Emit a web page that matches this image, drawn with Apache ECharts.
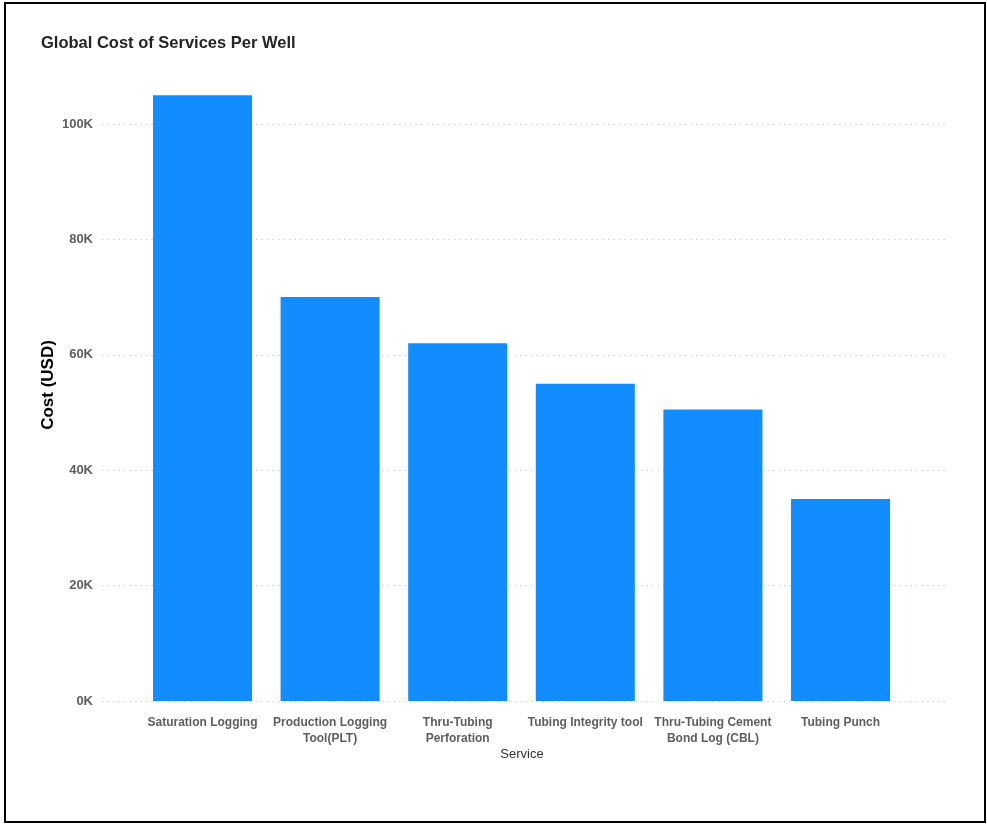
<!DOCTYPE html>
<html><head><meta charset="utf-8">
<script src="https://cdn.jsdelivr.net/npm/echarts@6/dist/echarts.min.js"></script>
<style>html,body{margin:0;padding:0;background:#fff}#c{width:987px;height:825px}</style>
</head><body><div id="c"></div>
<script>
const categories = ["Saturation Logging","Production Logging Tool(PLT)","Thru-Tubing Perforation","Tubing Integrity tool","Thru-Tubing Cement Bond Log (CBL)","Tubing Punch"];
const categoryLabels = ["Saturation Logging","Production Logging\nTool(PLT)","Thru-Tubing\nPerforation","Tubing Integrity tool","Thru-Tubing Cement\nBond Log (CBL)","Tubing Punch"];
const costValues = [105000, 70000, 62000, 55000, 50500, 35000];
const yTicks = [0, 20000, 40000, 60000, 80000, 100000];

const chart = echarts.init(document.getElementById('c'), null, {renderer:'canvas'});
const yMin = 0, yMax = 120000, yInt = 20000;
const font = '"Liberation Sans", Arial, sans-serif';
chart.setOption({
  animation:false,
  backgroundColor:'#fff',
  title:{text:'Global Cost of Services Per Well', left:36, top:30,
    textStyle:{fontFamily:font, fontSize:16.5, fontWeight:'bold', color:'#252423'}},
  graphic:[
    {type:'rect', shape:{x:5,y:3,width:980,height:819}, style:{fill:'none', stroke:'#000', lineWidth:2}, silent:true},
    {type:'text', x:48, y:385, rotation:Math.PI/2, style:{text:'Cost (USD)', fontFamily:font, fontSize:17, fontWeight:'bold', fill:'#000', align:'center', verticalAlign:'middle'}},
    {type:'text', x:522, y:754, style:{text:'Service', fontFamily:font, fontSize:13, fill:'#333', align:'center', verticalAlign:'middle'}}
  ],
  grid:[
    {left:102, right:42, top:8.6, bottom:124},
    {left:138.7, right:82.7, top:8.6, bottom:124}
  ],
  xAxis:[
    {gridIndex:0, type:'value', show:false, min:0, max:1},
    {gridIndex:1, type:'category', data:categories,
      axisLine:{show:false}, axisTick:{show:false},
      axisLabel:{interval:0, margin:14, lineHeight:16, fontFamily:font, fontSize:12, fontWeight:'bold', color:'#605e5c',
        formatter:(v,i)=>categoryLabels[i]}}
  ],
  yAxis:[
    {gridIndex:0, type:'value', min:yMin, max:yMax, interval:yInt,
      axisLine:{show:false}, axisTick:{show:false},
      axisLabel:{margin:9, fontFamily:font, fontSize:13, fontWeight:'bold', color:'#605e5c', showMaxLabel:false,
        formatter:v=> yTicks.indexOf(v)>=0 ? (v/1000)+'K' : ''},
      splitLine:{show:true, showMaxLine:false, lineStyle:{color:'#cfcfcf', width:1, type:[1.5,4]}}},
    {gridIndex:1, type:'value', min:yMin, max:yMax, interval:yInt, show:false, splitLine:{show:false}}
  ],
  series:[
    {type:'bar', xAxisIndex:1, yAxisIndex:1, data:costValues, barCategoryGap:'22.4%',
      itemStyle:{color:'#118DFF'}}
  ]
});
</script></body></html>
